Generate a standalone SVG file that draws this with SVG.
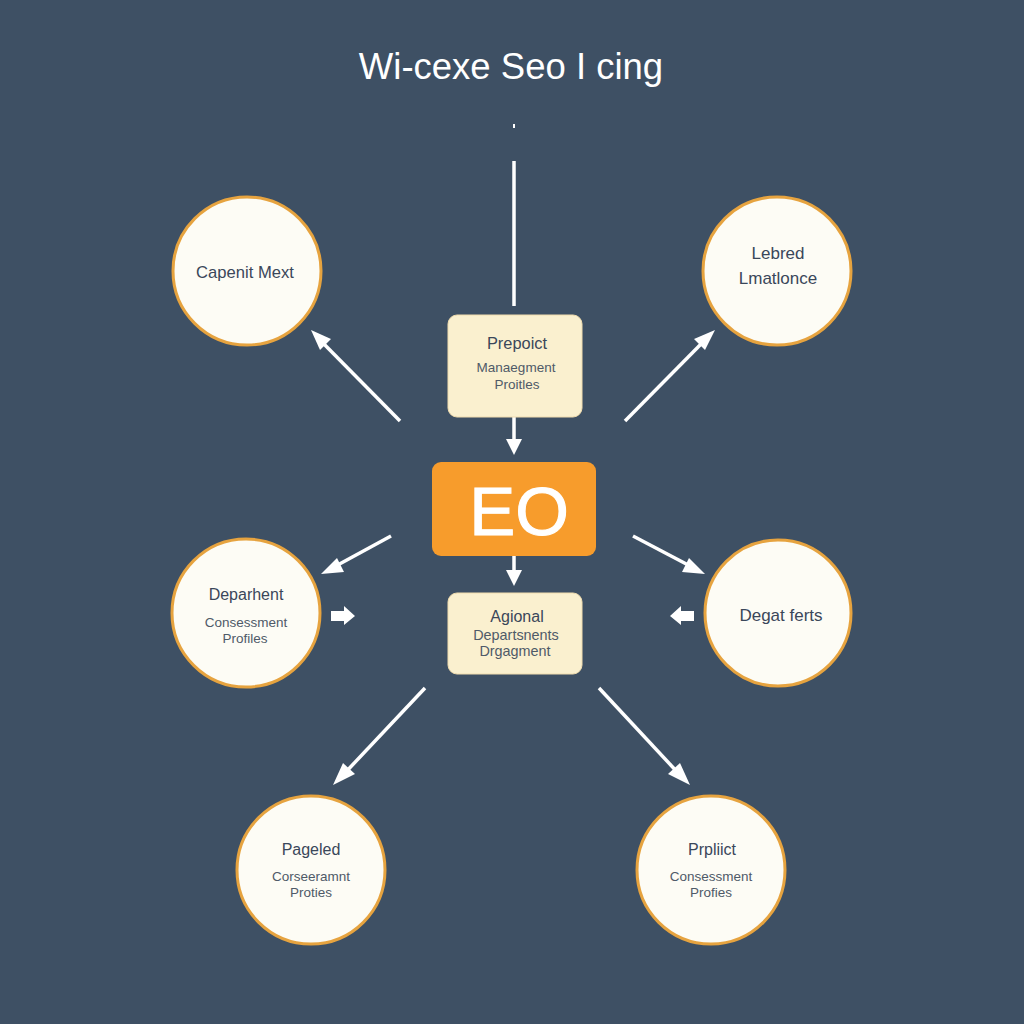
<svg xmlns="http://www.w3.org/2000/svg" width="1024" height="1024" viewBox="0 0 1024 1024">
<style>
text{font-family:"Liberation Sans",Arial,sans-serif;text-anchor:middle}
.c{fill:#fdfcf5;stroke:#e6a33f;stroke-width:3}
.r{fill:#faf0cf;stroke:#f0dcae;stroke-width:1}
.t{font-size:16px;fill:#3a475a}
.b{font-size:17px;fill:#3a475a}
.s{font-size:13.5px;fill:#4f5a68}
.w{font-size:14.4px;fill:#4f5a68}
.l{stroke:#fff;stroke-width:3.5;fill:none}
.h{fill:#fff}
</style>
<rect width="1024" height="1024" fill="#3e5064"/>
<text x="511" y="79" font-size="36.5" fill="#fff" id="title">Wi-cexe Seo I cing</text>
<g id="connectors">
<rect x="513" y="124" width="2" height="4" fill="#fff"/>
<path class="l" d="M514 161V306"/>
<path class="l" d="M400 421L319 339"/><polygon class="h" points="311,330 331,339 320,350"/>
<path class="l" d="M625 421L706 339"/><polygon class="h" points="715,330 705,350 694,339"/>
<path class="l" d="M514 417V440"/><polygon class="h" points="506,439 522,439 514,455"/>
<path class="l" d="M514 556V572"/><polygon class="h" points="506,570 522,570 514,586"/>
<path class="l" d="M391 536L334 567"/><polygon class="h" points="321,574 337,558 344,572"/>
<path class="l" d="M633 536L692 567"/><polygon class="h" points="705,574 682,572 689,558"/>
<polygon class="h" points="331,611 344,611 344,606 355,616 344,625 344,621 331,621"/>
<polygon class="h" points="694,611 681,611 681,606 670,616 681,625 681,621 694,621"/>
<path class="l" d="M425 688L343 775"/><polygon class="h" points="333,785 343,763 355,774"/>
<path class="l" d="M599 688L680 775"/><polygon class="h" points="690,785 668,774 680,763"/>
</g>
<g id="n-top-left"><circle class="c" cx="247" cy="271" r="74"/><text class="t" style="font-size:16.6px" x="245" y="278">Capenit Mext</text></g>
<g id="n-top-right"><circle class="c" cx="777" cy="271" r="74"/><text class="b" x="778" y="259">Lebred</text><text class="b" x="778" y="284">Lmatlonce</text></g>
<g id="n-mid-left"><circle class="c" cx="246" cy="613" r="74"/><text class="t" x="246" y="600">Deparhent</text><text class="s" x="246" y="627">Consessment</text><text class="s" x="245" y="643">Profiles</text></g>
<g id="n-mid-right"><circle class="c" cx="778" cy="613" r="73"/><text class="b" x="781" y="621">Degat ferts</text></g>
<g id="n-bot-left"><circle class="c" cx="311" cy="870" r="74"/><text class="t" x="311" y="855">Pageled</text><text class="s" x="311" y="881">Corseeramnt</text><text class="s" x="311" y="897">Proties</text></g>
<g id="n-bot-right"><circle class="c" cx="711" cy="870" r="74"/><text class="t" x="712" y="855">Prpliict</text><text class="s" x="711" y="881">Consessment</text><text class="s" x="711" y="897">Profies</text></g>
<g id="n-prepoict"><rect class="r" x="448" y="315" width="134" height="102" rx="9"/><text class="t" style="font-size:16.4px" x="517" y="349">Prepoict</text><text class="s" x="516" y="372">Manaegment</text><text class="s" x="517" y="389">Proitles</text></g>
<g id="n-eo"><rect x="432" y="462" width="164" height="94" rx="9" fill="#f79c2c"/><text x="519" y="535" font-size="69" fill="#fff" stroke="#fff" stroke-width="1">EO</text></g>
<g id="n-agional"><rect class="r" x="448" y="593" width="134" height="81" rx="9"/><text class="t" x="517" y="622">Agional</text><text class="w" x="516" y="640">Departsnents</text><text class="w" x="515" y="656">Drgagment</text></g>
</svg>
